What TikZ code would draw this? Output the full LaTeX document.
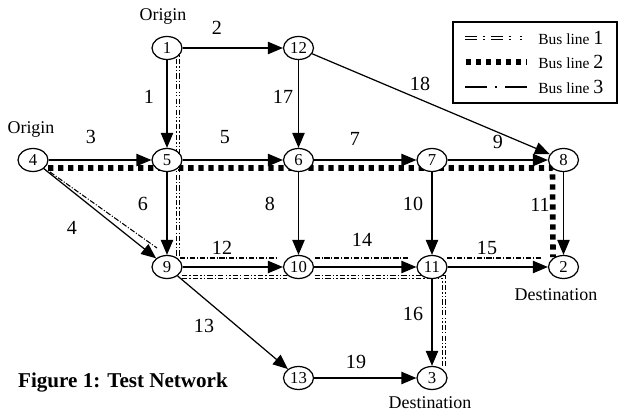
\documentclass[tikz,border=0pt]{standalone}
\usepackage{fontspec}
\setmainfont{Liberation Serif}
\usetikzlibrary{shapes.geometric, arrows.meta, calc, backgrounds}
\tikzset{
    stopnode/.style={ellipse, draw, fill=white, line width=0.7pt, minimum width=0.6cm,
                     minimum height=0.46cm, inner sep=0pt, font=\fontsize{9.5}{10}\selectfont},
    linklabel/.style={inner sep=0pt, font=\fontsize{11.4}{12}\selectfont},
    placelabel/.style={inner sep=0pt, font=\fontsize{10.2}{11}\selectfont},
    keytext/.style={inner sep=0pt, anchor=west, font=\fontsize{8.8}{10}\selectfont},
    keybox/.style={rectangle, draw, line width=0.7pt, minimum width=3.28cm, minimum height=1.62cm},
    arrow/.style={-{Triangle[length=8.5pt, width=7pt]}, line width=0.7pt},
    busone/.style={line width=0.45pt, double=white, double distance=1.3pt,
                   dash pattern=on 3pt off 1.2pt on 0.8pt off 1.2pt on 3pt off 1.2pt on 0.8pt off 1.2pt on 0.8pt off 1.2pt},
    bustwo/.style={line width=3.2pt, dash pattern=on 3pt off 2.7pt},
    busthree/.style={line width=0.6pt, dash pattern=on 3pt off 1pt on 0.6pt off 1pt},
}

\begin{document}
\begin{tikzpicture}
    \useasboundingbox (0,0) rectangle (12.38,8.28);

    \node[stopnode] (n1) at (3.34, 7.32) {1};
    \node[stopnode] (n12) at (5.97, 7.32) {12};
    \node[stopnode] (n4) at (0.66, 5.08) {4};
    \node[stopnode] (n5) at (3.34, 5.08) {5};
    \node[stopnode] (n6) at (5.97, 5.08) {6};
    \node[stopnode] (n7) at (8.64, 5.08) {7};
    \node[stopnode] (n8) at (11.27, 5.08) {8};
    \node[stopnode] (n9) at (3.34, 2.94) {9};
    \node[stopnode] (n10) at (5.97, 2.94) {10};
    \node[stopnode] (n11) at (8.64, 2.94) {11};
    \node[stopnode] (n2) at (11.27, 2.94) {2};
    \node[stopnode] (n13) at (5.97, 0.72) {13};
    \node[stopnode] (n3) at (8.64, 0.72) {3};

    \node[placelabel] (orig1) at (3.26, 7.94) {Origin};
    \node[placelabel] (orig4) at (0.62, 5.68) {Origin};
    \node[placelabel] (dest2) at (11.12, 2.38) {Destination};
    \node[placelabel] (dest3) at (8.6, 0.22) {Destination};
    \node[inner sep=0pt, font=\fontsize{12}{13}\selectfont\bfseries] (caption) at (2.46, 0.62) {Figure 1: Test Network};

    \begin{scope}[on background layer]
        \draw[bustwo] ($(n4)+(0.3,-0.16)$) -- ($(n8)+(-0.22,-0.16)$) -- ($(n2)+(-0.21,0.2)$);
        \draw[busone] ($(n1)+(0.22,0)$) -- ($(n9)+(0.22,0.19)$);
        \draw[busone] ($(n9)+(0.3,-0.2)$) -- ($(n10)+(-0.24,-0.2)$);
        \draw[busone] ($(n10)+(0.32,-0.2)$) -- ($(n11)+(0.24,-0.2)$) -- ($(n3)+(0.24,0.2)$);
        \draw[busthree] ($(n4)+(0.34,-0.24)$) -- ($(n9)+(-0.2,0.38)$);
        \draw[busthree] ($(n9)+(0.26,0.18)$) -- ($(n10)+(-0.44,0.18)$);
        \draw[busthree] ($(n10)+(0.32,0.18)$) -- ($(n11)+(-0.44,0.18)$);
        \draw[busthree] ($(n11)+(0.3,0.18)$) -- ($(n2)+(-0.42,0.18)$);
    \end{scope}

    \draw[arrow] (n1) -- (n5);
    \draw[arrow] (n1) -- (n12);
    \draw[arrow] (n4) -- (n5);
    \draw[arrow] (n4) -- (n9);
    \draw[arrow] (n5) -- (n6);
    \draw[arrow] (n5) -- (n9);
    \draw[arrow] (n6) -- (n7);
    \draw[arrow] (n6) -- (n10);
    \draw[arrow] (n7) -- (n8);
    \draw[arrow] (n7) -- (n11);
    \draw[arrow] (n8) -- (n2);
    \draw[arrow] (n9) -- (n10);
    \draw[arrow] (n9) -- (n13);
    \draw[arrow] (n10) -- (n11);
    \draw[arrow] (n11) -- (n2);
    \draw[arrow] (n11) -- (n3);
    \draw[arrow] (n12) -- (n6);
    \draw[arrow] (n12) -- (n8);
    \draw[arrow] (n13) -- (n3);

    \node[linklabel] (l1) at (2.98, 6.34) {1};
    \node[linklabel] (l2) at (4.34, 7.72) {2};
    \node[linklabel] (l3) at (1.82, 5.54) {3};
    \node[linklabel] (l4) at (1.44, 3.72) {4};
    \node[linklabel] (l5) at (4.5, 5.54) {5};
    \node[linklabel] (l6) at (2.86, 4.2) {6};
    \node[linklabel] (l7) at (7.1, 5.5) {7};
    \node[linklabel] (l8) at (5.4, 4.2) {8};
    \node[linklabel] (l9) at (9.96, 5.44) {9};
    \node[linklabel] (l10) at (8.26, 4.2) {10};
    \node[linklabel] (l11) at (10.8, 4.18) {11};
    \node[linklabel] (l12) at (4.44, 3.32) {12};
    \node[linklabel] (l13) at (4.08, 1.76) {13};
    \node[linklabel] (l14) at (7.24, 3.48) {14};
    \node[linklabel] (l15) at (9.74, 3.32) {15};
    \node[linklabel] (l16) at (8.26, 2.0) {16};
    \node[linklabel] (l17) at (5.66, 6.34) {17};
    \node[linklabel] (l18) at (8.4, 6.6) {18};
    \node[linklabel] (l19) at (7.12, 1.04) {19};

    \node[keybox] (legend) at (10.7, 7.03) {};
    \draw[busone, dash pattern=on 6.8pt off 3.4pt on 1.2pt off 3.4pt on 6.8pt off 3.4pt on 1.2pt off 5pt on 1.2pt off 5pt] (9.3, 7.52) -- (10.54, 7.52);
    \draw[bustwo] (9.32, 7.04) -- (10.54, 7.04);
    \draw[busthree, dash pattern=on 12.5pt off 4.5pt on 1.2pt off 4.5pt] (9.3, 6.54) -- (10.54, 6.54);
    \node[keytext] (key1) at (10.76, 7.52) {Bus line {\fontsize{11.4}{12}\selectfont 1}};
    \node[keytext] (key2) at (10.76, 7.04) {Bus line {\fontsize{11.4}{12}\selectfont 2}};
    \node[keytext] (key3) at (10.76, 6.54) {Bus line {\fontsize{11.4}{12}\selectfont 3}};
\end{tikzpicture}
\end{document}
